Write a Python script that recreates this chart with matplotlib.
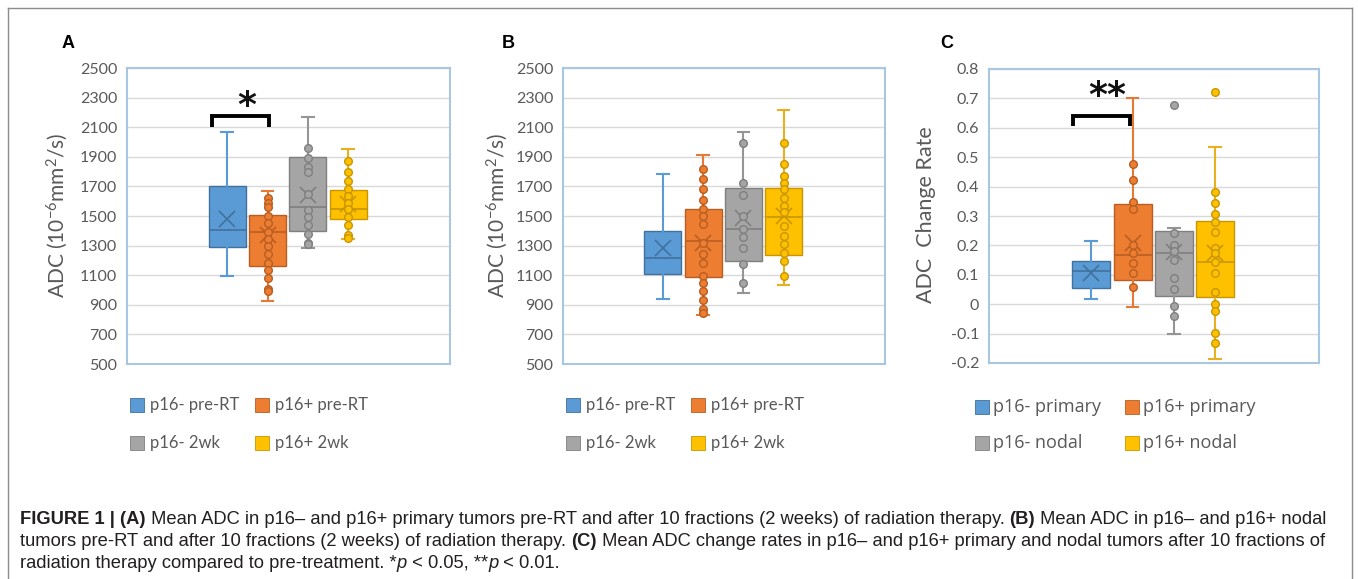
import matplotlib
matplotlib.use("Agg")
import matplotlib.pyplot as plt
import numpy as np
from matplotlib.patches import Rectangle
from matplotlib.lines import Line2D

W, H = 1358, 579
plt.rcParams['axes.unicode_minus'] = False
plt.rcParams['mathtext.default'] = 'regular'
plt.rcParams['font.family'] = ['Lato', 'DejaVu Sans']

# ---------------- data ----------------
labels_AB = ["p16- pre-RT", "p16+ pre-RT", "p16- 2wk", "p16+ 2wk"]
labels_C = ["p16- primary", "p16+ primary", "p16- nodal", "p16+ nodal"]

# Panel A (primary tumours, ADC x10^-6 mm^2/s)
A_whislo = [1092, 924, 1284, 1342]
A_q1 = [1291, 1165, 1397, 1480]
A_med = [1408, 1392, 1559, 1545]
A_q3 = [1700, 1509, 1896, 1676]
A_whishi = [2065, 1671, 2169, 1950]
A_mean = [1482, 1374, 1640, 1581]
A_pts_0 = []
A_pts_1 = [1625, 1590, 1560, 1500, 1450, 1395, 1345, 1300, 1245, 1180, 1135, 1080, 1010, 995]
A_pts_2 = [1960, 1895, 1830, 1800, 1650, 1540, 1495, 1440, 1380, 1320, 1310]
A_pts_3 = [1870, 1800, 1735, 1680, 1635, 1590, 1545, 1490, 1440, 1370, 1350]

# Panel B (nodal tumours)
B_whislo = [936, 830, 981, 1037]
B_q1 = [1105, 1089, 1195, 1236]
B_med = [1216, 1329, 1410, 1493]
B_q3 = [1399, 1550, 1692, 1688]
B_whishi = [1787, 1911, 2069, 2216]
B_mean = [1281, 1320, 1489, 1500]
B_pts_0 = []
B_pts_1 = [1815, 1750, 1680, 1605, 1545, 1500, 1445, 1320, 1240, 1185, 1095, 1050, 990, 935, 870, 845]
B_pts_2 = [1990, 1725, 1645, 1500, 1410, 1355, 1285, 1175, 1045]
B_pts_3 = [1990, 1850, 1770, 1725, 1680, 1625, 1570, 1525, 1430, 1365, 1310, 1250, 1195, 1095]

# Panel C (ADC change rate)
C_whislo = [0.016, -0.010, -0.101, -0.186]
C_q1 = [0.054, 0.082, 0.027, 0.025]
C_med = [0.112, 0.167, 0.173, 0.143]
C_q3 = [0.147, 0.342, 0.249, 0.283]
C_whishi = [0.215, 0.703, 0.260, 0.533]
C_mean = [0.105, 0.209, 0.177, 0.173]
C_pts_0 = []
C_pts_1 = [0.478, 0.422, 0.349, 0.323, 0.203, 0.173, 0.141, 0.107, 0.058]
C_pts_2 = [0.677, 0.243, 0.200, 0.180, 0.149, 0.090, 0.052, -0.007, -0.039]
C_pts_3 = [0.723, 0.380, 0.343, 0.308, 0.280, 0.245, 0.190, 0.173, 0.143, 0.107, 0.041, 0.001, -0.024, -0.098, -0.132]

AB_yticks = [500, 700, 900, 1100, 1300, 1500, 1700, 1900, 2100, 2300, 2500]
C_yticks = [-0.2, -0.1, 0, 0.1, 0.2, 0.3, 0.4, 0.5, 0.6, 0.7, 0.8]
C_yticklabels = ["-0.2", "-0.1", "0", "0.1", "0.2", "0.3", "0.4", "0.5", "0.6", "0.7", "0.8"]

# ---------------- style ----------------
fills = ["#5B9BD5", "#ED7D31", "#A5A5A5", "#FFC000"]
edges = ["#41719C", "#B85E22", "#7F7F7F", "#C79600"]
whisk = ["#5B9BD5", "#E57A36", "#959595", "#E8B020"]
TXT = "#595959"
positions = [0.31, 0.435, 0.56, 0.685]
BOXW = 0.115

fig = plt.figure(figsize=(W / 100, H / 100), dpi=100)


def px_axes(l, t, r, b):
    return fig.add_axes([l / W, 1 - b / H, (r - l) / W, (b - t) / H])


def panel(ax, whislo, q1, med, q3, whishi, mean, pts, yticks, yticklabels):
    for i in range(4):
        st = dict(med=med[i], q1=q1[i], q3=q3[i], whislo=whislo[i], whishi=whishi[i],
                  mean=mean[i], fliers=[])
        ax.bxp([st], positions=[positions[i]], widths=BOXW, capwidths=0.036,
               patch_artist=True, showmeans=True, showfliers=False,
               boxprops=dict(facecolor=fills[i], edgecolor=edges[i], linewidth=1.0),
               whiskerprops=dict(color=whisk[i], linewidth=1.5),
               capprops=dict(color=whisk[i], linewidth=1.5),
               medianprops=dict(color=edges[i], linewidth=1.2),
               meanprops=dict(marker='x', markeredgecolor=edges[i], markersize=11,
                              markeredgewidth=1.2),
               manage_ticks=False, zorder=2)
        if len(pts[i]):
            ax.plot(np.full(len(pts[i]), positions[i]), pts[i], 'o', ms=5.5,
                    mfc=fills[i], mec=edges[i], mew=1.0, zorder=4)
    ax.set_xlim(0, 1)
    ax.set_ylim(yticks[0], yticks[-1])
    ax.set_yticks(yticks)
    ax.set_yticklabels(yticklabels)
    ax.set_xticks([])
    ax.yaxis.grid(True, color='#D9D9D9', linewidth=1.0)
    ax.set_axisbelow(True)
    ax.tick_params(axis='y', length=0, pad=7, labelsize=11.5, labelcolor=TXT)
    for s in ax.spines.values():
        s.set_color('#A9C6E3')
        s.set_linewidth(1.5)


axA = px_axes(127, 68, 450, 364)
axB = px_axes(563, 68, 885, 364)
axC = px_axes(989, 69, 1319, 363)

panel(axA, A_whislo, A_q1, A_med, A_q3, A_whishi, A_mean,
      [A_pts_0, A_pts_1, A_pts_2, A_pts_3], AB_yticks, [str(v) for v in AB_yticks])
panel(axB, B_whislo, B_q1, B_med, B_q3, B_whishi, B_mean,
      [B_pts_0, B_pts_1, B_pts_2, B_pts_3], AB_yticks, [str(v) for v in AB_yticks])
panel(axC, C_whislo, C_q1, C_med, C_q3, C_whishi, C_mean,
      [C_pts_0, C_pts_1, C_pts_2, C_pts_3], C_yticks, C_yticklabels)

# significance brackets
axA.plot([0.263, 0.263, 0.44, 0.44], [2101, 2176, 2176, 2101], color='black', lw=2.8,
         solid_joinstyle='miter', solid_capstyle='butt', zorder=5)
axA.text(0.371, 2240, '*', fontsize=26, fontweight='bold', ha='center', va='center',
         color='#111111', family='DejaVu Sans')
axC.plot([0.255, 0.255, 0.427, 0.427], [0.607, 0.639, 0.639, 0.607], color='black', lw=2.8,
         solid_joinstyle='miter', solid_capstyle='butt', zorder=5)
axC.text(0.358, 0.708, '**', fontsize=26, fontweight='bold', ha='center', va='center',
         color='#111111', family='DejaVu Sans')

# y labels
fig.text(57 / W, 1 - 215 / H, r"ADC (10$^{-6}$mm$^{2}$/s)", rotation=90, ha='center',
         va='center', fontsize=15, color=TXT)
fig.text(497 / W, 1 - 215 / H, r"ADC (10$^{-6}$mm$^{2}$/s)", rotation=90, ha='center',
         va='center', fontsize=15, color=TXT)
fig.text(926 / W, 1 - 215 / H, "ADC  Change Rate", rotation=90, ha='center',
         va='center', fontsize=15.5, color=TXT)

# panel letters
for lx, letter in [(62, 'A'), (502, 'B'), (940, 'C')]:
    fig.text(lx / W, 1 - 44 / H, letter, fontsize=13, fontweight='bold',
             family='Liberation Sans', ha='left', va='center', color='black')


# legends
def legend(labels, xcols, yrows, patch, fontsize, dx, family):
    for k, lab in enumerate(labels):
        x = xcols[k % 2]
        y = yrows[k // 2]
        fig.patches.append(Rectangle((x / W, 1 - (y + patch / 2) / H), patch / W, patch / H,
                                     transform=fig.transFigure, facecolor=fills[k],
                                     edgecolor=edges[k], lw=0.6))
        fig.text((x + patch + dx) / W, 1 - y / H, lab, va='center', ha='left',
                 fontsize=fontsize, color=TXT, family=family)


legend(labels_AB, [130, 255], [405, 443], 14, 12, 6, 'Lato')
legend(labels_AB, [566, 691], [405, 443], 14, 12, 6, 'Lato')
legend(labels_C, [975, 1125], [407, 443], 14, 13, 4, 'Open Sans')

# outer border
for xs, ys in [([8, 8], [H + 2, 8]), ([8, 1352], [8, 8]), ([1352, 1352], [8, H + 2])]:
    fig.add_artist(Line2D([x / W for x in xs], [1 - y / H for y in ys],
                          transform=fig.transFigure, color='#8C8C8C', lw=1.0))

# caption
renderer = fig.canvas.get_renderer()
CAP = 'Liberation Sans'


def measure(s, size, weight='normal', style='normal'):
    t1 = fig.text(0, 0, "|" + s + "|", fontsize=size, fontweight=weight, fontstyle=style,
                  family=CAP)
    t2 = fig.text(0, 0, "||", fontsize=size, fontweight=weight, fontstyle=style, family=CAP)
    w = t1.get_window_extent(renderer).width - t2.get_window_extent(renderer).width
    t1.remove()
    t2.remove()
    return w


lines = [
    [("FIGURE 1 | (A)", 'bold', 'normal'),
     (" Mean ADC in p16\u2013 and p16+ primary tumors pre-RT and after 10 fractions (2 weeks) of radiation therapy. ", 'normal', 'normal'),
     ("(B)", 'bold', 'normal'),
     (" Mean ADC in p16\u2013 and p16+ nodal", 'normal', 'normal')],
    [("tumors pre-RT and after 10 fractions (2 weeks) of radiation therapy. ", 'normal', 'normal'),
     ("(C)", 'bold', 'normal'),
     (" Mean ADC change rates in p16\u2013 and p16+ primary and nodal tumors after 10 fractions of", 'normal', 'normal')],
    [("radiation therapy compared to pre-treatment. *", 'normal', 'normal'),
     ("p", 'normal', 'italic'),
     (" < 0.05, **", 'normal', 'normal'),
     ("p", 'normal', 'italic'),
     (" < 0.01.", 'normal', 'normal')],
]

base = 12
w1 = sum(measure(s, base, wt, stl) for s, wt, stl in lines[0])
size = base * (1332 - 20) / w1
for y, runs in zip([519, 541, 563], lines):
    x = 20
    for s, wt, stl in runs:
        fig.text(x / W, 1 - y / H, s, fontsize=size, fontweight=wt, fontstyle=stl,
                 family=CAP, va='center', ha='left', color='#231F20')
        x += measure(s, size, wt, stl)

fig.savefig("out.png", dpi=100)
